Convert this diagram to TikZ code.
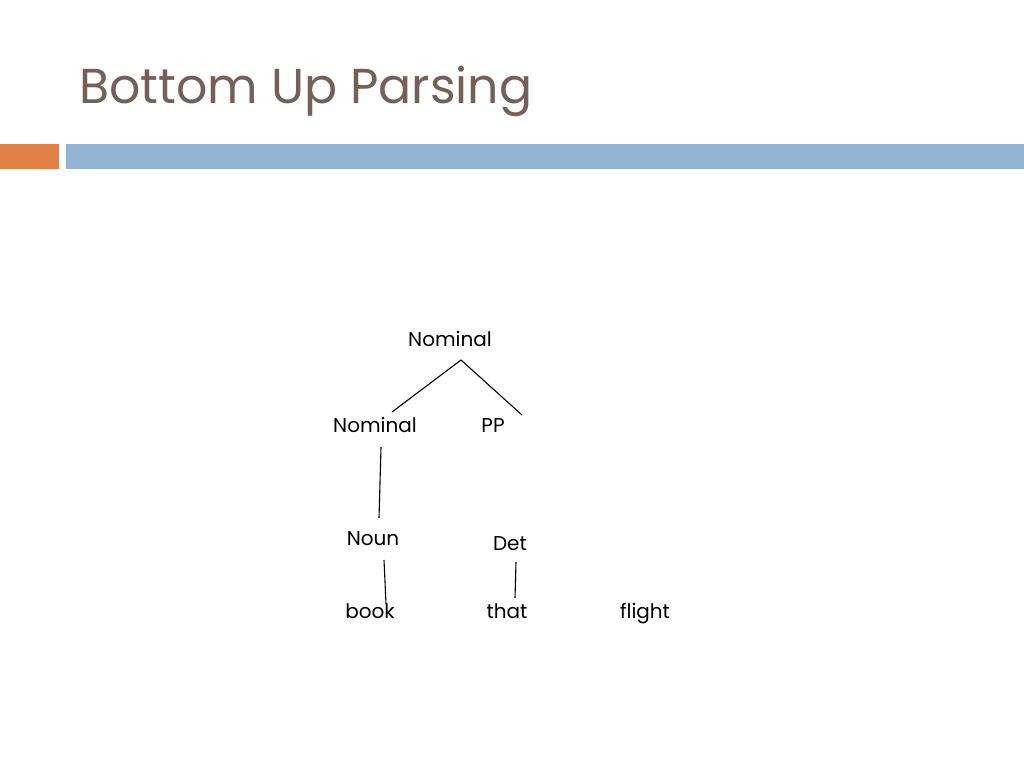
\documentclass[tikz,border=0pt]{standalone}
\usepackage{fontspec}
\usepackage{xcolor}
\setmainfont{Poppins}
\usetikzlibrary{calc}
\definecolor{titlebrown}{RGB}{117,96,88}
\definecolor{barorange}{RGB}{224,128,70}
\definecolor{barblue}{RGB}{148,180,212}

\begin{document}
\begin{tikzpicture} [x=1pt,y=-1pt,auto]
  \tikzstyle{word}=[inner sep=0pt,anchor=base,font=\fontsize{20}{22}\selectfont]
  \tikzstyle{branch}=[line width=1.1pt,black]

  \useasboundingbox[fill=white] (0,0) rectangle (1024,768);
  \node[anchor=base west,inner sep=0pt,text=titlebrown,font=\fontsize{49}{54}\selectfont] (title) at (79,103) {Bottom Up Parsing};
  \fill[barorange] (0,144) rectangle (59,169);
  \fill[barblue] (66,144) rectangle (1024,169);

  \node[word]         (N1) at (450,346) {Nominal};
  \node[word]         (N2) at (375,432) {Nominal};
  \node[word]         (PP) at (493,432) {PP};
  \node[word]         (NN) at (373,545) {Noun};
  \node[word]         (DT) at (510,550) {Det};
  \node[word]         (W1) at (370,618) {book};
  \node[word]         (W2) at (507,618) {that};
  \node[word]         (W3) at (645,618) {flight};

  \draw[branch] ($(N1.base)+(11,14)$) -- ($(N2.base)+(17,-20)$);
  \draw[branch] ($(N1.base)+(11,14)$) -- ($(PP.base)+(29,-17)$);
  \draw[branch] ($(N2.base)+(6,15)$) -- ($(NN.base)+(6,-27)$);
  \draw[branch] ($(NN.base)+(11,15)$) -- ($(W1.base)+(16,-14)$);
  \draw[branch] ($(DT.base)+(6,12)$) -- ($(W2.base)+(8,-20)$);
\end{tikzpicture}
\end{document}
